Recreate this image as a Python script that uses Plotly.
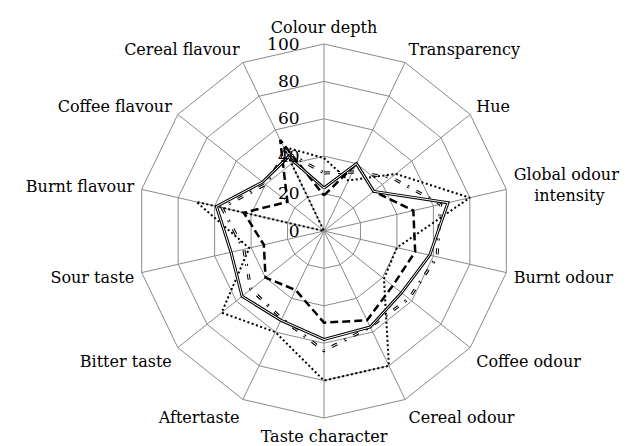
import plotly.graph_objects as go

categories = ["Colour depth", "Transparency", "Hue", "Global odour<br>\u00a0\u00a0\u00a0\u00a0intensity",
              "Burnt odour", "Coffee odour", "Cereal odour", "Taste character",
              "Aftertaste", "Bitter taste", "Sour taste", "Burnt flavour",
              "Coffee flavour", "Cereal flavour"]

series_a = [23, 40, 34, 68, 58, 53, 57, 58, 53, 56, 51, 59, 42, 44]
series_b = [31, 35, 46, 64, 62, 58, 57, 64, 52, 50, 44, 56, 40, 47]
series_c = [19, 40, 34, 49, 50, 47, 53, 49, 35, 40, 33, 44, 25, 54]
series_d = [39, 30, 49, 80, 40, 41, 80, 80, 60, 70, 41, 70, 0, 50]

radial_ticks = [0, 20, 40, 60, 80, 100]

FONT = "DejaVu Serif"


def closed(vals):
    return list(vals) + [vals[0]]


theta = closed(categories)
fig = go.Figure()

# Series D: dotted
fig.add_trace(go.Scatterpolar(r=closed(series_d), theta=theta, mode="lines",
                              line=dict(color="black", width=2, dash="2px,2.5px"),
                              showlegend=False))
# Series C: thick dashed
fig.add_trace(go.Scatterpolar(r=closed(series_c), theta=theta, mode="lines",
                              line=dict(color="black", width=2.5, dash="8px,4px"),
                              showlegend=False))
# Series B: hollow dash-dot (double line)
fig.add_trace(go.Scatterpolar(r=closed(series_b), theta=theta, mode="lines",
                              line=dict(color="black", width=3, dash="6px,8px,2px,8px"),
                              showlegend=False))
fig.add_trace(go.Scatterpolar(r=closed(series_b), theta=theta, mode="lines",
                              line=dict(color="white", width=1, dash="6px,8px,2px,8px"),
                              showlegend=False))
# Series A: double solid line
fig.add_trace(go.Scatterpolar(r=closed(series_a), theta=theta, mode="lines",
                              line=dict(color="black", width=3),
                              showlegend=False))
fig.add_trace(go.Scatterpolar(r=closed(series_a), theta=theta, mode="lines",
                              line=dict(color="white", width=1),
                              showlegend=False))

fig.update_layout(
    width=629, height=446,
    margin=dict(l=129, r=126, t=36, b=36),
    paper_bgcolor="white",
    font=dict(family=FONT, size=16, color="black"),
    polar=dict(
        bgcolor="white",
        gridshape="linear",
        radialaxis=dict(range=[0, 100], tickvals=radial_ticks,
                        ticktext=[str(v) for v in radial_ticks],
                        angle=90, tickangle=90, side="counterclockwise",
                        showline=False, ticks="outside", ticklen=18,
                        tickcolor="rgba(0,0,0,0)",
                        gridcolor="#8a8a8a", gridwidth=1,
                        tickfont=dict(family=FONT, size=17, color="black")),
        angularaxis=dict(rotation=90, direction="clockwise",
                         categoryorder="array", categoryarray=categories,
                         showline=True, linecolor="#8a8a8a", linewidth=1,
                         gridcolor="#8a8a8a", gridwidth=1,
                         ticks="outside", ticklen=4, tickcolor="rgba(0,0,0,0)",
                         tickfont=dict(family=FONT, size=16, color="black")),
    ),
)

fig.write_html("out.html")
